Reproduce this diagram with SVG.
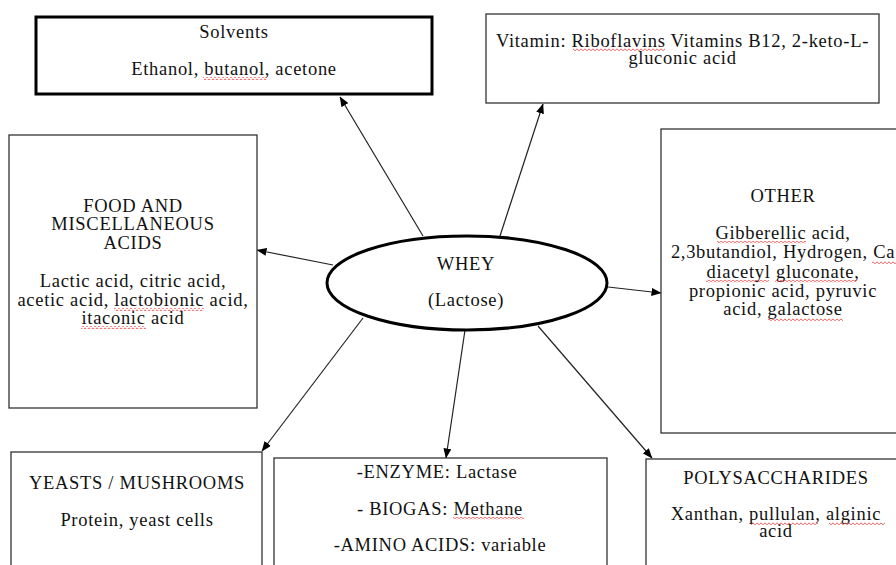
<svg xmlns="http://www.w3.org/2000/svg" width="896" height="565" viewBox="0 0 896 565">
<style>
text{font-family:"Liberation Serif","Times New Roman",serif;font-size:18.5px;letter-spacing:0.7px;fill:#111;text-anchor:middle}
.box{fill:#fff;stroke:#333;stroke-width:1.3}
.thick{fill:#fff;stroke:#000;stroke-width:3}
.con{stroke:#222;stroke-width:1.2;fill:none;marker-end:url(#ah)}
.sq{fill:url(#wave)}
</style>
<defs>
<marker id="ah" markerWidth="10" markerHeight="8" refX="9.5" refY="4" orient="auto" markerUnits="userSpaceOnUse">
<path d="M0,0 L10,4 L0,8 Z" fill="#000"/>
</marker>
<pattern id="wave" width="4" height="3" patternUnits="userSpaceOnUse">
<path d="M0,2 L1,0.8 L2,2 L3,2.6 L4,2" stroke="#e03030" stroke-width="0.7" fill="none"/>
</pattern>
</defs>
<rect width="896" height="565" fill="#fff"/>

<g id="connectors">
<line class="con" x1="423" y1="236" x2="340" y2="97"/>
<line class="con" x1="500" y1="236" x2="543" y2="104"/>
<line class="con" x1="333" y1="265" x2="257" y2="250"/>
<line class="con" x1="608" y1="287" x2="661" y2="293"/>
<line class="con" x1="363" y1="318" x2="262" y2="451"/>
<line class="con" x1="465" y1="330" x2="446" y2="458"/>
<line class="con" x1="538" y1="326" x2="652" y2="458"/>
</g>

<g id="solvents">
<rect class="thick" x="36" y="17" width="396" height="77"/>
<text x="234" y="38">Solvents</text>
<text x="234" y="75">Ethanol, butanol, acetone</text>
<rect class="sq" x="203" y="77" width="64" height="3"/>
</g>

<g id="vitamin">
<rect class="box" x="486" y="14" width="393" height="89"/>
<text x="682.5" y="47">Vitamin: Riboflavins Vitamins B12, 2-keto-L-</text>
<text x="682.5" y="64">gluconic acid</text>
<rect class="sq" x="573" y="48" width="92" height="3"/>
</g>

<g id="food">
<rect class="box" x="9" y="135" width="248" height="273"/>
<text x="133" y="212">FOOD AND</text>
<text x="133" y="230">MISCELLANEOUS</text>
<text x="133" y="249">ACIDS</text>
<text x="133" y="287">Lactic acid, citric acid,</text>
<text x="133" y="306">acetic acid, lactobionic acid,</text>
<text x="133" y="324">itaconic acid</text>
<rect class="sq" x="114" y="308" width="90" height="3"/>
<rect class="sq" x="81" y="326" width="65" height="3"/>
</g>

<g id="other">
<rect class="box" x="661" y="129" width="250" height="304"/>
<text x="783" y="202">OTHER</text>
<text x="783" y="239">Gibberellic acid,</text>
<text x="783" y="258">2,3butandiol, Hydrogen, Ca</text>
<text x="783" y="278">diacetyl gluconate,</text>
<text x="783" y="297">propionic acid, pyruvic</text>
<text x="783" y="315">acid, galactose</text>
<rect class="sq" x="717" y="241" width="89" height="3"/>
<rect class="sq" x="872" y="261" width="24" height="3"/>
<rect class="sq" x="706" y="280" width="63" height="3"/>
<rect class="sq" x="775" y="280" width="82" height="3"/>
<rect class="sq" x="768" y="318" width="75" height="3"/>
</g>

<g id="whey">
<ellipse cx="467" cy="283" rx="140" ry="47" fill="#fff" stroke="#000" stroke-width="3"/>
<text x="466" y="270">WHEY</text>
<text x="466" y="306">(Lactose)</text>
</g>

<g id="yeasts">
<rect class="box" x="11" y="452" width="251" height="130"/>
<text x="137" y="489">YEASTS / MUSHROOMS</text>
<text x="137" y="526">Protein, yeast cells</text>
</g>

<g id="enzyme">
<rect class="box" x="274" y="458" width="333" height="130"/>
<text x="437" y="478">-ENZYME: Lactase</text>
<text x="440" y="515">- BIOGAS: Methane</text>
<text x="440" y="551">-AMINO ACIDS: variable</text>
<rect class="sq" x="453" y="517" width="71" height="3"/>
</g>

<g id="polysaccharides">
<rect class="box" x="646" y="459" width="262" height="130"/>
<text x="776" y="484">POLYSACCHARIDES</text>
<text x="776" y="520">Xanthan, pullulan, alginic</text>
<text x="776" y="537">acid</text>
<rect class="sq" x="751" y="522" width="67" height="3"/>
<rect class="sq" x="829" y="522" width="56" height="3"/>
</g>
</svg>
